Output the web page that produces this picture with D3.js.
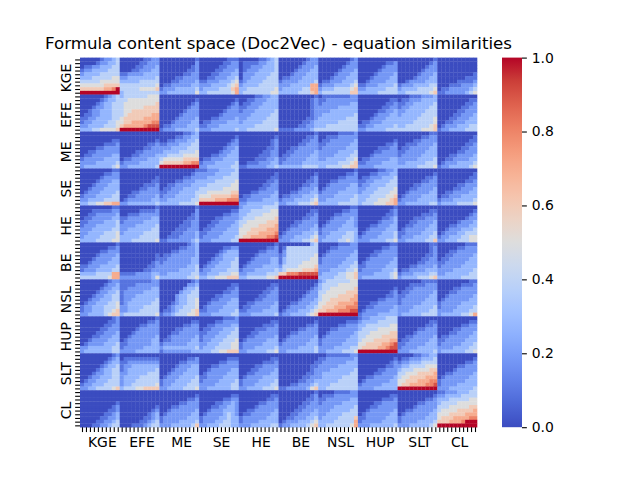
<!DOCTYPE html>
<html><head><meta charset="utf-8">
<script src="https://cdn.jsdelivr.net/npm/d3@7"></script>
<style>body{margin:0;background:#fff}text{font-family:"DejaVu Sans",sans-serif;fill:#000}</style>
</head><body><svg id="c" width="640" height="480"></svg>
<script>
// Group labels (rows and columns share the same order)
const groups = ["KGE","EFE","ME","SE","HE","BE","NSL","HUP","SLT","CL"];
const colorbarTicks = [0.0, 0.2, 0.4, 0.6, 0.8, 1.0];
// Codebook for the quantised readings below
const levelCodes = {"0":0.0,"1":0.09,"2":0.18,"3":0.27,"4":0.38,"5":0.5,"6":0.6,"7":0.7,"8":0.8,"9":0.9,"X":1.0};
// Similarity values, one array per row group; each entry is one 10x10 block
// (columns group KGE..CL), rows separated by commas
const rowsKGE = [
"0000012234,0000122334,0112233344,1223333444,2333344444,3334444455,4444455555,5555556666,666666778X,XXXXXXXXXX",
"0000001122,0000011222,0000112223,0001122233,1122223333,2233333334,3333344444,4444444445,4444455556,3444444444",
"0000000001,0000000002,0000000012,0000000112,0000001122,0000112222,0001122223,0112222233,1222333334,2233333335",
"0000000111,0000001122,0000011222,0000112223,0001122233,0011222334,1122233345,2223333456,2333344467,3344444457",
"0000011234,0111122334,0112223334,0122233334,0222333344,0223333444,1233334444,2333344444,3344444445,3444444455",
"0000000122,0000001222,0000012223,0000122233,0001222333,0112223333,1222233334,2223333377,2333334477,3333344467",
"0000000012,0000000122,0000001222,0000012223,0000122233,0001222333,0112223334,1222333345,2333444456,3444444466",
"0000000000,0000000112,0000001222,0000012222,0000122223,0001222233,0012222333,1122233334,2233333444,3333344444",
"0000000001,0000000012,0000000122,0000001222,0000012223,0000122233,0012222333,1222333344,2333344445,3344444456",
"0000000000,0000000000,0000000000,0000000000,0000000001,0000000111,0000011112,0001112223,0112222234,1122222345"];
const rowsEFE = [
"0000001234,0000012334,0000123344,0001223344,0012233344,0112233344,1122333344,1223333445,2233334445,3334455556",
"3444444555,4455555555,4555555556,4555556666,4556666666,4566666677,5666667777,5667777788,6777778999,XXXXXXXXXX",
"0000000000,0000000001,0000000012,0000000122,0000001222,0000012222,0000122223,0001222233,0112222333,1222333334",
"0000000000,0000000001,0000000012,0000000122,0000001222,0000012222,0001122223,0112222333,1122233333,2223333334",
"0000112233,0011222333,0112223333,1122233333,1222333334,2223333344,2233333444,2333334444,3333444444,3344444445",
"0000000001,0000000012,0000000012,0000000012,0000000012,0000000012,0000000112,0000001123,0000011223,1111222234",
"0111111122,1122222222,1222222233,2222233333,2223333333,2333333334,3333333444,3333344444,3344444444,4444444444",
"0000000000,0000000011,0000000112,0000001122,0000011223,0000122233,0001222333,0112223333,1122333334,2233333444",
"0001112223,0112223333,1122333334,1223333344,2233333444,2333334444,3333344445,3333444445,3344444456,4444445556",
"0000000000,0000000011,0000000112,0000001122,0000011222,0000112223,0001122233,0011222333,0122233344,1223333444"];
const rowsME = [
"0000000000,0000000000,0000000011,0000001112,0000112222,0011222222,0112222233,1222223333,2222333334,2333333345",
"0000000000,0000000000,0000000001,0000000112,0000001122,0000112222,0001122223,0112222333,1222233333,2233333334",
"0000001123,0000112233,0011222334,1122233344,2223333444,2333344445,3344445555,4555556666,5666667788,XXXXXXXXXX",
"0000000000,0000000001,0000000012,0000000122,0000001223,0000012233,0001122333,0112223333,1222333334,2233333344",
"0000000000,0000000001,0000000012,0000000012,0000000112,0000001122,0000011122,0000111223,0011122233,1122222334",
"0000000001,0000000112,0000001122,0000011222,0001122222,0011222223,0112222233,1122222333,1222223333,3333334444",
"0000011112,0011122222,0112222223,1122222233,1222222333,2222233334,2222333344,2233333445,3333344456,3344445566",
"0000000000,0000000000,0000000001,0000000112,0000011122,0000112222,0001222222,0112222233,1122223333,2222333333",
"0000000011,0000001122,0000112222,0011122223,0112222233,1122222333,1222223333,2222233334,2233333444,3333344445",
"0000000000,0000000001,0000000011,0000000112,0000001122,0000011222,0001122223,0011222233,0122233334,1223333345"];
const rowsSE = [
"0000000011,0000001122,0000012222,0000122233,0001222333,0012223333,0122233334,1222333344,2233334444,3344556677",
"0000000000,0000000000,0000000001,0000000011,0000001112,0000011222,0001122222,0011222223,0122222233,2233333334",
"0000000001,0000000012,0000001122,0000112223,0011222233,0112223333,1122233334,1222333334,2233333344,3333344445",
"1122233334,2222333344,2233334444,3333444445,3344444455,4444445555,4455555566,5556666677,6666777888,XXXXXXXXXX",
"0000000000,0000000001,0000000011,0000000112,0000001122,0000011222,0001122223,0112222233,1122223333,2233333334",
"0000000000,0000000001,0000000012,0000000112,0000001122,0000012223,0001122233,0112223334,1222333345,2233344456",
"0000000001,0000000112,0000011222,0001122222,0012222233,0122222333,1222233333,2222333334,2233333344,3333344444",
"0000011223,0001122233,0112223334,1122333344,1223333444,2233344445,2333444455,3334444556,3344455567,3444555667",
"0000000000,0000000001,0000000112,0000001122,0000112222,0001122223,0012222233,0122223333,1222233333,2233333344",
"0000000000,0000000001,0000000011,0000000112,0000011222,0000112223,0011222233,0112223333,1222333334,2333344445"];
const rowsHE = [
"0000000011,0001111122,0011222223,0112222233,1122223334,1222333334,2223333344,2233334445,2333344445,3333444455",
"0000000001,0000011112,0011122222,1122222233,1222223333,2222333334,2233333344,2333334444,3333344444,3334444445",
"0000000001,0000000002,0000000012,0000000112,0000001122,0000011122,0000111222,0001112223,0011122223,1122222234",
"0000000000,0000000011,0000001122,0000112222,0001122223,0011222233,0112222333,1122223333,1222233334,2223333344",
"2333334444,3334444455,3344445555,3444555556,4455555666,4555566667,5556666777,5566677778,5667777889,XXXXXXXXXX",
"0000000000,0000000011,0000000112,0000001122,0000112222,0001122223,0012222233,0122223334,1222333345,2223334456",
"0000000011,0000001122,0000112222,0001222232,0012222332,0122223332,1222233333,1223333443,2233334443,2333344543",
"0000000001,0000000012,0000000112,0000001123,0000012223,0001122233,0012222333,0122223334,1222233334,2223333445",
"0000000000,0000000011,0000001112,0000111222,0001122223,0011222233,0122222333,1122223334,1222333344,2233333446",
"0000000000,0000000001,0000000012,0000000122,0000012223,0001122233,0012223334,0122233444,1223334455,2233344455"];
const rowsBE = [
"0000000001,0000000112,0000011222,0000122223,0001222233,0012222333,1122233334,1222333344,3333444477,4444444577",
"0000000000,0000000000,0000000000,0000000001,0000000001,0000000012,0000000112,0000001122,1111222233,2222222235",
"0000000123,0000011223,0001122223,0112222223,1122222233,1222222233,2222222334,2222233334,2233333344,3333333445",
"0000000000,0000001122,0000012333,0000123333,0001223334,0012233344,0122333344,1223333444,2233344455,3344555666",
"0000000001,0000000112,0000011222,0000122222,0001222233,0012222233,0122223333,1222333334,2233333444,3344444556",
"0000000034,0144444444,0244444444,1244444445,1344444455,1344445555,2444455556,3455556667,6688899999,XXXXXXXXXX",
"0000011122,0001122222,0012222223,0122222233,1222222333,1222223334,2222233344,2223333445,2333344556,3333444556",
"0000000011,0000001122,0000112222,0001122222,0012222223,0122222233,1122222333,1222223334,2222333345,2333333345",
"0000000011,0000000012,0000000012,0000000112,0000001122,0000011222,0001122223,0112222333,1222333344,2333344456",
"0000000111,0000011222,0001122222,0011222223,0112222233,1122222333,1222223333,2222333334,2233333344,3333334444"];
const rowsNSL = [
"0000000122,0000001223,0000012233,0000122334,0001223344,0012233344,0122333445,1223334445,1223334456,2233334566",
"1111111122,1111222222,1122222233,1222223333,1222333333,1223333334,1233333344,2233334444,2233344444,3444444445",
"0000000012,0000000223,0000002334,0000023344,0000233444,0000233445,0001233445,0012334445,0112344456,1223444556",
"0000000000,0000000011,0000000112,0000001122,0000112222,0001122233,0012222333,0122223333,1122233334,2223333344",
"0000000000,0000000011,0000000112,0000001122,0000011222,0000112222,0011222223,0112222233,1122223333,2223333334",
"0000000000,0000000001,0000000012,0000000122,0000001222,0000012223,0001122233,0012222334,0122233345,1223333456",
"2344444455,3444455555,3445555556,4455555666,4555566667,4556666677,5566677778,5666777888,6677788899,XXXXXXXXXX",
"0000000000,0000000000,0000000001,0000000012,0000000112,0000011222,0001122222,0011222223,0122222233,1222233333",
"0000001111,0001111222,0011222222,0112222223,1122222233,1222222333,1222223333,2222333334,2223333344,2333334444",
"0000000011,0000001112,0000112222,0001122222,0012222223,0122222233,1222223333,1222233334,2222333344,2333334457"];
const rowsHUP = [
"0000000012,0000000112,0000001122,0000011222,0000112223,0001122233,0012222333,0122223334,2233333344,2333333344",
"0000000001,0000000112,0000011222,0000122222,0001222222,0012222223,0122222233,1122222233,1222223333,2222333333",
"0000000000,0000000011,0000001122,0000112222,0001122222,0012222223,0112222233,1222222333,2333333334,1222222233",
"0000001112,0000112222,0011222233,0112223334,1122233344,1222333444,1223334445,2233344455,2333444455,3334455666",
"0000000000,0000000011,0000001112,0000111222,0001122222,0011222223,0122222333,1222223333,1222333334,2233333445",
"0000000000,0000000001,0000000112,0000011222,0001122222,0012222223,0122222233,1222222333,2222233334,2233333334",
"0000000000,0000000111,0000011222,0001122222,0012222223,0122222233,1222222333,1222223333,2222333344,2233334445",
"1223333444,2333344444,3344444455,3444455555,4445555566,4455556666,4555666677,5566667789,5666677899,XXXXXXXXXX",
"0000000000,0000000011,0000000112,0000011222,0000122222,0011222223,0112222233,1122222333,1222233333,2223333334",
"0000000000,0000000011,0000001122,0000112222,0001122223,0112222233,1122222333,1222223334,2222333344,2333333445"];
const rowsSLT = [
"0000000012,0000000123,0000001233,0000012334,0000123344,0001223344,0012233344,0122333444,1223334444,2233444456",
"0000000000,0111111111,1122222222,1223333333,1233333334,2233333444,2333344444,2333444444,2334444445,3444556666",
"0000000000,0000000112,0000011222,0000122233,0001222333,0012223333,0122233334,1222333344,1223333444,2233334445",
"0000000000,0000000111,0000011222,0001122222,0012222233,0122222333,1122223333,1222233334,2222333344,2233333344",
"0000000000,0000000011,0000001112,0000112222,0001122223,0011222233,0122223333,1222233334,1222333344,2233334445",
"0000000000,0000000000,0000000001,0000000011,0000000012,0000000112,0000001122,0000011223,0001122234,1122222356",
"0011111122,1122222223,1222222333,2222233333,2223333334,2333333344,2333334444,3333344444,3334444444,3344444444",
"0000000000,0000000001,0000000012,0000000112,0000011222,0000112222,0011222223,0122222233,1222223333,2222333333",
"0000112233,0112223334,1223334444,2334444555,3444555566,4455566667,4556666777,5566677788,5667777889,XXXXXXXXXX",
"0000000000,0000000001,0000000112,0000011222,0000122222,0011222223,0122222233,1222222333,1222233333,2223333334"];
const rowsCL = [
"0000000000,0000000000,0000000000,0000000001,0000000012,0000000112,0000001123,0000011223,0000112234,0001122344",
"0000000000,0000000000,0000000000,0000000000,0000000001,0000000012,0000000123,0000001123,0000011234,0001112344",
"0000000000,0000000001,0000000112,0000011222,0001122222,0012222223,0122222233,1222222333,1222233334,2223333346",
"0000000000,0000000011,0000001122,0000112232,0001122332,0012223332,0122223432,1222233433,1222334433,2233344433",
"0000000000,0000000011,0000000112,0000011222,0000122222,0011222223,0112222233,1222222333,1222233333,2223333344",
"0000000001,0000000012,0000000112,0000001122,0000011222,0000112223,0001122233,0011222334,0122233345,1223333456",
"0000111122,0111222222,1122222233,1222223333,2222333334,2223333344,2233334444,2333344446,3333444447,3344444457",
"0000000000,0000000011,0000001112,0000112222,0001122222,0012222223,0122222233,1122222333,1222223333,2223333334",
"0000000000,0000000001,0000000112,0000011222,0000122222,0011222223,0122222233,1222222333,1222233334,2223333345",
"1122233344,2233334444,3334444455,3444455555,4445555566,4555566667,5556666777,5666777788,6667778XXX,XXXXXXXXXX"];
const rowGroups = [rowsKGE,rowsEFE,rowsME,rowsSE,rowsHE,rowsBE,rowsNSL,rowsHUP,rowsSLT,rowsCL];

// matplotlib coolwarm colour stops
const cwStops = [[59,76,192],[77,104,215],[98,130,234],[119,154,247],[141,176,254],[163,194,255],[184,208,249],[204,217,238],[221,221,221],[236,211,197],[245,196,173],[247,177,148],[244,154,123],[236,127,99],[222,96,77],[203,62,56],[180,4,38]];

const N = 100;
const matrix = [];
rowGroups.forEach((blocks) => {
  const parsed = blocks.map(b => b.split(","));
  for (let r = 0; r < 10; r++) {
    const row = [];
    for (let c = 0; c < 10; c++) {
      const s = (parsed[c][r] || "").padEnd(10, "0").slice(0, 10);
      for (let k = 0; k < 10; k++) row.push(levelCodes[s[k]] ?? 0);
    }
    matrix.push(row);
  }
});

const color = d3.scaleLinear()
  .domain(cwStops.map((_, i) => i / (cwStops.length - 1)))
  .range(cwStops.map(c => d3.rgb(c[0], c[1], c[2])))
  .interpolate(d3.interpolateRgb).clamp(true);

const L = 80, R = 477, T = 57.6, B = 427.2;
const x = d3.scaleLinear().domain([0, N]).range([L, R]);
const y = d3.scaleLinear().domain([0, N]).range([T, B]);
const svg = d3.select("#c");
svg.append("rect").attr("width", 640).attr("height", 480).attr("fill", "#fff");

const cells = [];
matrix.forEach((row, i) => row.forEach((v, j) => cells.push({i, j, v})));
svg.append("g").selectAll("rect").data(cells).join("rect")
  .attr("x", d => x(d.j)).attr("y", d => y(d.i))
  .attr("width", d => x(d.j + 1) - x(d.j) + 0.3)
  .attr("height", d => y(d.i + 1) - y(d.i) + 0.3)
  .attr("fill", d => color(d.v));

const fs = 13.9, tl = 4.86;
const idx = d3.range(N);
const labelAt = i => (i % 10 === 5 ? groups[Math.floor(i / 10)] : "");
// x axis
const xa = svg.append("g").attr("transform", `translate(0,${B})`)
  .call(d3.axisBottom(x).tickValues(idx.map(i => i + 0.5)).tickSize(tl).tickPadding(tl)
    .tickFormat((d, k) => labelAt(k)));
xa.select(".domain").remove();
xa.selectAll("line").attr("stroke", "#000").attr("stroke-width", 1.1);
xa.selectAll("text").attr("font-size", fs).attr("font-family", "DejaVu Sans").attr("fill", "#000");
// y axis
const ya = svg.append("g").attr("transform", `translate(${L},0)`)
  .call(d3.axisLeft(y).tickValues(idx.map(i => i + 0.5)).tickSize(tl).tickFormat(() => ""));
ya.select(".domain").remove();
ya.selectAll("line").attr("stroke", "#000").attr("stroke-width", 1.1);
groups.forEach((g, gi) => {
  const yc = y(gi * 10 + 5.5), bx = L - tl - tl + 0.5;
  svg.append("text").attr("x", bx).attr("y", yc)
    .attr("transform", `rotate(-90,${bx},${yc})`)
    .attr("text-anchor", "middle").attr("font-size", fs).text(g);
});

// colorbar
const cbL = 502, cbR = 522;
const defs = svg.append("defs");
const grad = defs.append("linearGradient").attr("id", "cb").attr("x1", 0).attr("y1", 1).attr("x2", 0).attr("y2", 0);
d3.range(0, 1.0001, 1 / 64).forEach(t => grad.append("stop").attr("offset", t).attr("stop-color", color(t)));
svg.append("rect").attr("x", cbL).attr("y", T).attr("width", cbR - cbL).attr("height", B - T).attr("fill", "url(#cb)");
const cs = d3.scaleLinear().domain([0, 1]).range([B, T]);
const ca = svg.append("g").attr("transform", `translate(${cbR},0)`)
  .call(d3.axisRight(cs).tickValues(colorbarTicks).tickSize(tl).tickPadding(tl).tickFormat(d3.format(".1f")));
ca.select(".domain").remove();
ca.selectAll("line").attr("stroke", "#000").attr("stroke-width", 1.1);
ca.selectAll("text").attr("font-size", fs).attr("font-family", "DejaVu Sans").attr("fill", "#000");

// title
svg.append("text").attr("x", (L + R) / 2).attr("y", 49.3).attr("text-anchor", "middle")
  .attr("font-size", 16.67).text("Formula content space (Doc2Vec) - equation similarities");
</script></body></html>
